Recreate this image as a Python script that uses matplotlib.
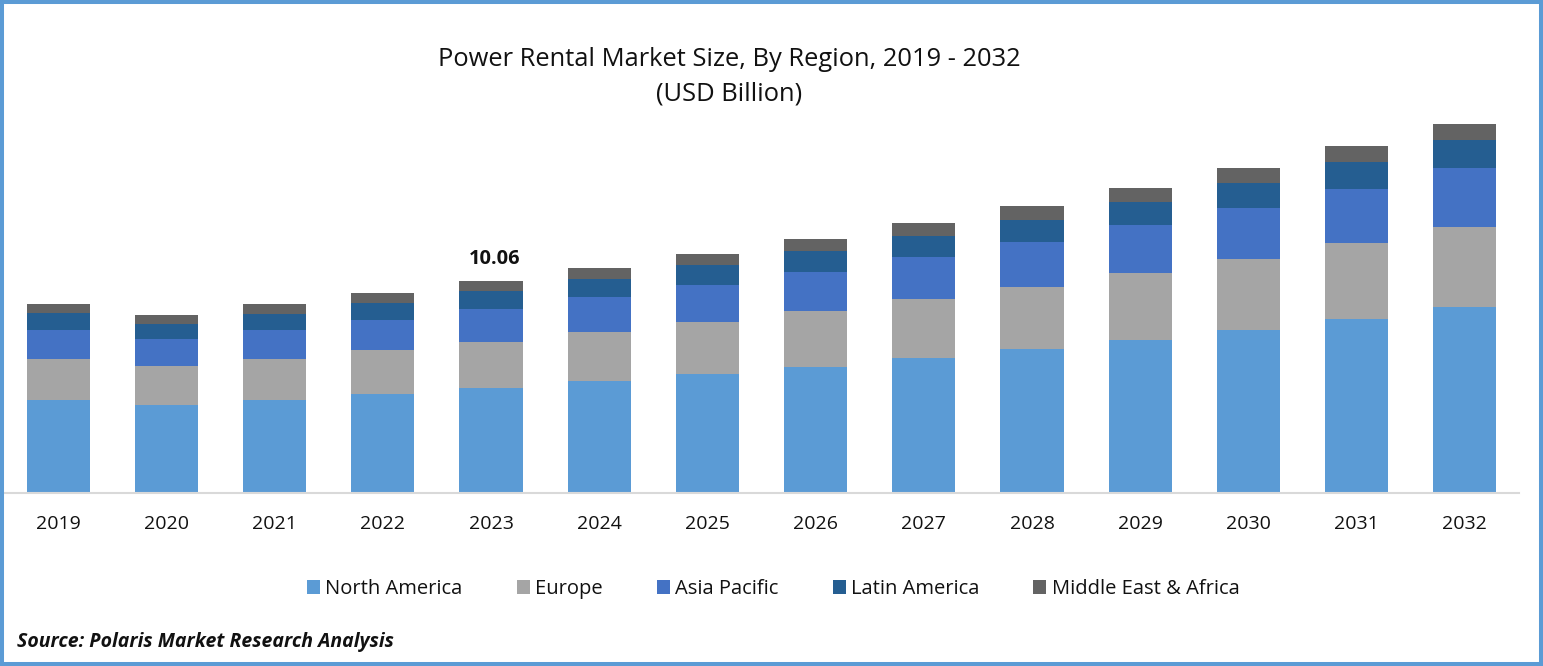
import logging
import numpy as np
import pandas as pd
import matplotlib
matplotlib.use("Agg")
import matplotlib.pyplot as plt
from matplotlib.patches import Rectangle

logger = logging.getLogger(__name__)

YEARS = list(range(2019, 2033))
SHARES = pd.DataFrame(
    {
        "North America": [4.41, 4.18, 4.41, 4.70, 4.98, 5.32, 5.65, 5.98, 6.41, 6.83, 7.26, 7.74, 8.26, 8.83],
        "Europe": [1.95, 1.85, 1.95, 2.09, 2.18, 2.33, 2.47, 2.66, 2.80, 2.94, 3.18, 3.37, 3.61, 3.80],
        "Asia Pacific": [1.38, 1.28, 1.38, 1.42, 1.57, 1.66, 1.76, 1.85, 1.99, 2.14, 2.28, 2.42, 2.56, 2.80],
        "Latin America": [0.81, 0.71, 0.76, 0.81, 0.85, 0.85, 0.95, 1.00, 1.00, 1.04, 1.09, 1.19, 1.28, 1.33],
        "Middle East & Africa": [0.43, 0.43, 0.47, 0.47, 0.47, 0.52, 0.52, 0.57, 0.62, 0.66, 0.66, 0.71, 0.76, 0.76],
    },
    index=YEARS,
)
COLORS = ["#5B9BD5", "#A5A5A5", "#4472C4", "#255E91", "#636363"]


def main():
    plt.rcParams["font.family"] = "Open Sans"

    logger.info("Drawing stacked bars...")
    fig = plt.figure(figsize=(15.43, 6.66), dpi=100)
    fig.patch.set_facecolor("white")
    fig.add_artist(
        Rectangle((0.0013, 0.003), 0.9974, 0.994, transform=fig.transFigure, fill=False, edgecolor="#5B9BD5", linewidth=2.9)
    )
    plt.axes([4 / 1543, 1 - 493 / 666, 1515 / 1543, 383 / 666])

    x = np.arange(len(YEARS))
    bottom = np.zeros(len(YEARS))
    for col, color in zip(SHARES.columns, COLORS):
        plt.bar(x, SHARES[col].values, 0.583, bottom=bottom, color=color, label=col)
        bottom += SHARES[col].values

    plt.text(4.03, bottom[4] + 0.6, "10.06", ha="center", va="bottom", fontsize=14.4, fontweight="bold", color="#111111")

    plt.xlim(-0.5, 13.5)
    plt.ylim(0, 383 / 21.07)
    plt.xticks(x, YEARS, fontsize=14, color="#111111")
    plt.yticks([])
    plt.tick_params(axis="x", length=0, pad=16)
    ax = plt.gca()
    for side in ["top", "left", "right"]:
        ax.spines[side].set_visible(False)
    ax.spines["bottom"].set_color("#D9D9D9")
    ax.spines["bottom"].set_linewidth(1.5)

    plt.legend(
        loc="center",
        bbox_to_anchor=(773 / 1543, 1 - 589 / 666),
        bbox_transform=fig.transFigure,
        ncol=5,
        frameon=False,
        fontsize=14.5,
        handlelength=0.65,
        handleheight=0.65,
        handletextpad=0.25,
        columnspacing=2.7,
        labelcolor="#111111",
    )

    fig.text(729 / 1543, 1 - 59 / 666, "Power Rental Market Size, By Region, 2019 - 2032", ha="center", va="center", fontsize=18.4, color="#111111")
    fig.text(729 / 1543, 1 - 94 / 666, "(USD Billion)", ha="center", va="center", fontsize=18.4, color="#111111")
    fig.text(17 / 1543, 1 - 642 / 666, "Source: Polaris Market Research Analysis", ha="left", va="center", fontsize=14, fontweight="bold", fontstyle="italic", color="#111111")

    plt.savefig("out.png", dpi=100)
    plt.close()
    logger.info("Saved out.png")


if __name__ == "__main__":
    logging.basicConfig(level=logging.INFO, format="%(levelname)s:%(name)s:%(message)s")
    main()
